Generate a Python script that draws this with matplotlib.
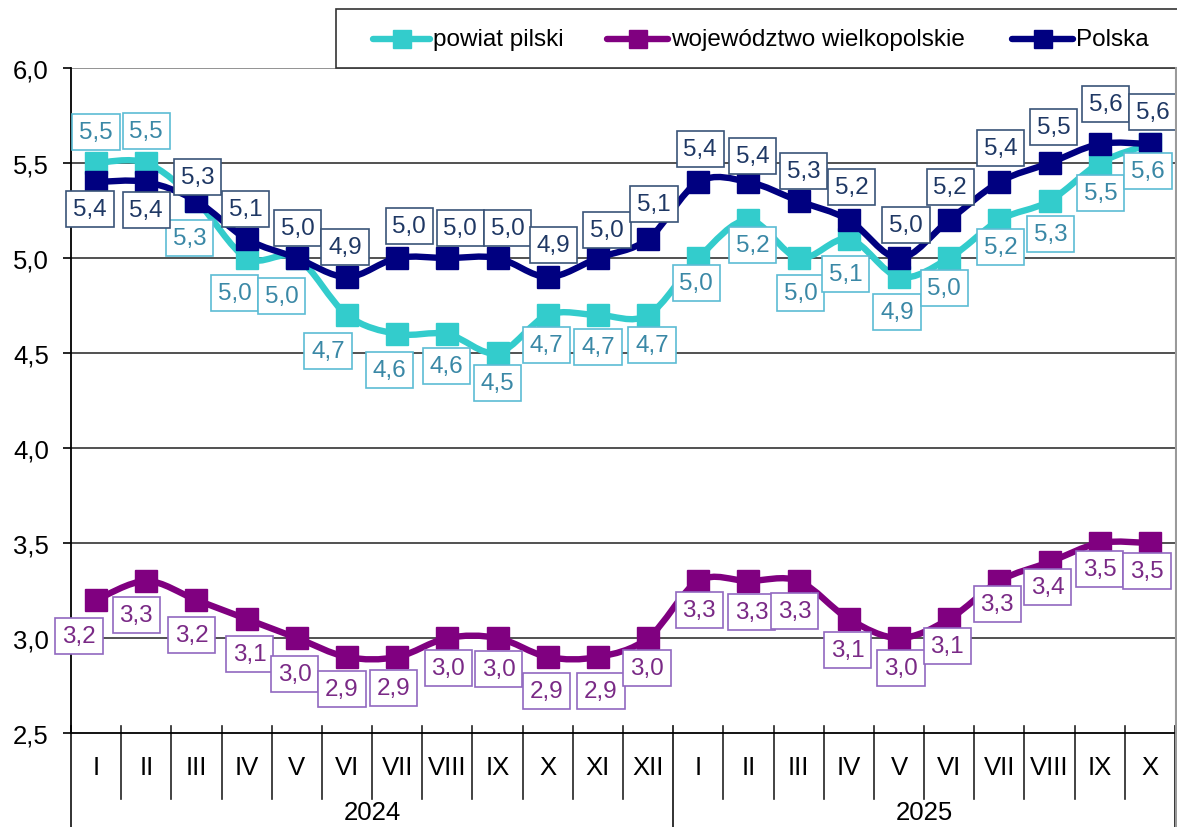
import matplotlib
matplotlib.use('Agg')
import matplotlib.pyplot as plt
from matplotlib.path import Path
from matplotlib.patches import PathPatch, Rectangle
from matplotlib.lines import Line2D
import matplotlib.transforms as mtransforms

# ---------------- data ----------------
months = ['I', 'II', 'III', 'IV', 'V', 'VI', 'VII', 'VIII', 'IX', 'X', 'XI', 'XII',
          'I', 'II', 'III', 'IV', 'V', 'VI', 'VII', 'VIII', 'IX', 'X']
years = ['2024', '2025']
months_per_year = [12, 10]

powiat_pilski = [5.5, 5.5, 5.3, 5.0, 5.0, 4.7, 4.6, 4.6, 4.5, 4.7, 4.7, 4.7,
                 5.0, 5.2, 5.0, 5.1, 4.9, 5.0, 5.2, 5.3, 5.5, 5.6]
wielkopolskie = [3.2, 3.3, 3.2, 3.1, 3.0, 2.9, 2.9, 3.0, 3.0, 2.9, 2.9, 3.0,
                 3.3, 3.3, 3.3, 3.1, 3.0, 3.1, 3.3, 3.4, 3.5, 3.5]
polska = [5.4, 5.4, 5.3, 5.1, 5.0, 4.9, 5.0, 5.0, 5.0, 4.9, 5.0, 5.1,
          5.4, 5.4, 5.3, 5.2, 5.0, 5.2, 5.4, 5.5, 5.6, 5.6]
series_names = ['powiat pilski', 'województwo wielkopolskie', 'Polska']
yticks = [2.5, 3.0, 3.5, 4.0, 4.5, 5.0, 5.5, 6.0]

# ---------------- label placement (pixels, image coords: +dy = down) -------
off_pilski = [(0, -31), (0, -32), (-7, 37), (-12, 35), (-15, 38), (-19, 36), (-8, 36),
              (-1, 32), (0, 30), (-1, 30), (0, 32), (4, 30), (-2, 25), (4, 25), (2, 35),
              (-3, 35), (-2, 35), (-5, 30), (1, 27), (1, 33), (1, 30), (-2, 27)]
off_polska = [(-6, 27), (0, 28), (1, -24), (-1, -30), (1, -30), (-2, -30), (12, -32),
              (13, -30), (10, -30), (6, -32), (9, -28), (6, -35), (2, -33), (4, -26),
              (5, -30), (3, -33), (7, -33), (1, -33), (1, -34), (4, -36), (6, -40), (3, -32)]
off_wlkp = [(-17, 36), (-10, 34), (-5, 35), (3, 35), (-2, 36), (-5, 32), (-4, 31),
            (1, 30), (1, 31), (-1, 34), (3, 34), (-1, 30), (1, 29), (3, 31), (-4, 30),
            (-1, 31), (2, 30), (-2, 27), (-2, 23), (-2, 25), (0, 26), (-3, 28)]

plt.rcParams['font.family'] = ['Liberation Sans', 'DejaVu Sans']

W, H = 1177, 828
fig = plt.figure(figsize=(W / 100, H / 100), dpi=100)
ax = fig.add_axes([71 / W, 1 - 734 / H, (1175 - 71) / W, (734 - 69) / H])

n = len(months)
x = list(range(n))
ax.set_xlim(-0.5, n - 0.5)
ax.set_ylim(2.5, 6.0)

# grid / axes
ax.set_yticks(yticks, [f"{v:.1f}".replace('.', ',') for v in yticks])
ax.tick_params(axis='y', direction='out', length=6, width=1.2, pad=10,
               labelsize=18.5, colors='black')
ax.set_xticks(x, months)
ax.tick_params(axis='x', length=0, pad=16, labelsize=18.5)
for v in yticks[1:]:
    ax.axhline(v, color='#808080' if v == 6.0 else '#333333', lw=1.2, zorder=1)
ax.spines['top'].set_visible(False)
ax.spines['right'].set_visible(False)
ax.spines['bottom'].set_linewidth(1.3)
ax.spines['left'].set_linewidth(1.3)

trans = mtransforms.blended_transform_factory(ax.transData, ax.transAxes)
bounds = [-0.5]
for m in months_per_year:
    bounds.append(bounds[-1] + m)
for k in range(1, n):
    xb = k - 0.5
    if xb in bounds:
        continue
    ax.add_line(Line2D([xb, xb], [0.011, -0.099], transform=trans, color='#222222',
                       lw=1.2, clip_on=False))
for xb in bounds:
    ax.add_line(Line2D([xb, xb], [0.011, -0.15], transform=trans, color='#222222',
                       lw=1.3, clip_on=False))
for i, yr in enumerate(years):
    xc = (bounds[i] + bounds[i + 1]) / 2
    ax.text(xc, -0.119, yr, transform=trans, ha='center', va='center', fontsize=18.5)


def smooth_path(xs, ys):
    m = len(xs)
    verts = [(xs[0], ys[0])]
    codes = [Path.MOVETO]
    for i in range(m - 1):
        x0, y0 = (xs[i - 1], ys[i - 1]) if i > 0 else (xs[i], ys[i])
        x1, y1 = xs[i], ys[i]
        x2, y2 = xs[i + 1], ys[i + 1]
        x3, y3 = (xs[i + 2], ys[i + 2]) if i + 2 < m else (x2, y2)
        c1 = (x1 + (x2 - x0) / 6, y1 + (y2 - y0) / 6)
        c2 = (x2 - (x3 - x1) / 6, y2 - (y3 - y1) / 6)
        verts += [c1, c2, (x2, y2)]
        codes += [Path.CURVE4] * 3
    return Path(verts, codes)


styles = [
    (powiat_pilski, '#33CCCC', '#3a88a6', '#5cbcd4', off_pilski, 4),
    (wielkopolskie, '#800080', '#7a2a86', '#9168c0', off_wlkp, 3),
    (polska, '#000080', '#1f3864', '#3a5478', off_polska, 5),
]
for vals, col, tcol, ecol, offs, z in styles:
    ax.add_patch(PathPatch(smooth_path(x, vals), facecolor='none', edgecolor=col,
                           lw=4.6, joinstyle='round', capstyle='round', zorder=z))
    ax.plot(x, vals, ls='none', marker='s', ms=15.5, color=col, zorder=z)

for vals, col, tcol, ecol, offs, z in styles:
    for xi, v, (dx, dy) in zip(x, vals, offs):
        ax.annotate(f"{v:.1f}".replace('.', ','), (xi, v), xytext=(dx, -dy),
                    textcoords='offset pixels', ha='center', va='center',
                    fontsize=17.5, color=tcol, zorder=10, annotation_clip=False,
                    bbox=dict(boxstyle='square,pad=0.28', fc='white', ec=ecol, lw=1.2))

# legend (manual, frame runs off the right edge like the original)
fig.add_artist(Rectangle((336 / W, 1 - 69 / H), (W + 10 - 336) / W, (69 - 10) / H,
                         transform=fig.transFigure, fc='white', ec='#333333', lw=1.2))
ly = 1 - 40 / H
leg = [(373, 430, 433), (607, 668, 671), (1012, 1073, 1076)]
for (a, b, t), (vals, col, *_), name in zip(leg, styles, series_names):
    fig.add_artist(Line2D([a / W, b / W], [ly, ly], color=col, lw=4.6,
                          solid_capstyle='round', transform=fig.transFigure))
    fig.add_artist(Line2D([(a + b) / 2 / W], [ly], marker='s', ms=12.5, color=col,
                          transform=fig.transFigure))
    fig.text(t / W, ly, name, ha='left', va='center', fontsize=17.5)

# right border
fig.add_artist(Line2D([1175.5 / W, 1175.5 / W], [0, 1 - 69 / H], color='#9a9a9a',
                      lw=1.5, transform=fig.transFigure))

fig.savefig('out.png', dpi=100)
